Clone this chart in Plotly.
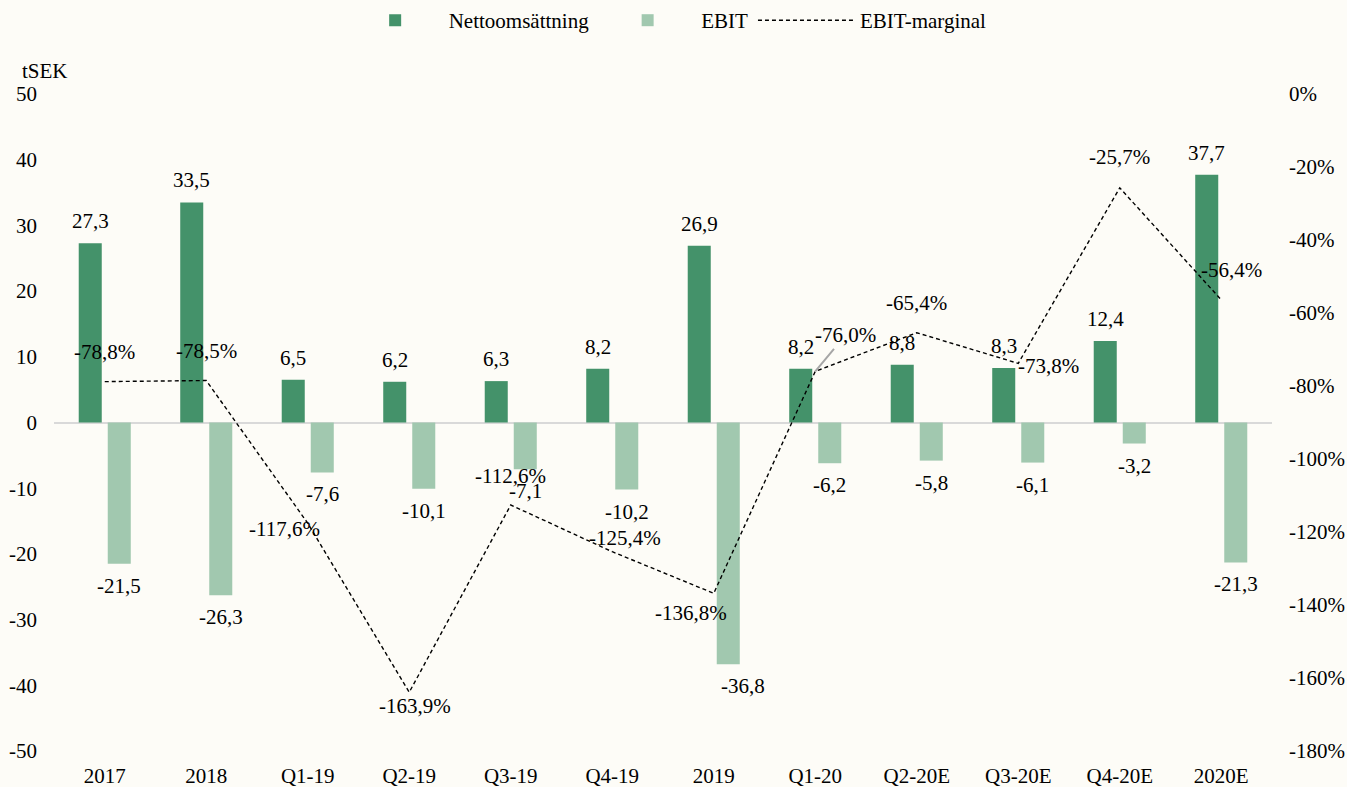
import plotly.graph_objects as go

categories = ["2017", "2018", "Q1-19", "Q2-19", "Q3-19", "Q4-19", "2019",
              "Q1-20", "Q2-20E", "Q3-20E", "Q4-20E", "2020E"]
nettoomsattning = [27.3, 33.5, 6.5, 6.2, 6.3, 8.2, 26.9, 8.2, 8.8, 8.3, 12.4, 37.7]
ebit = [-21.5, -26.3, -7.6, -10.1, -7.1, -10.2, -36.8, -6.2, -5.8, -6.1, -3.2, -21.3]
ebit_marginal = [-78.8, -78.5, -117.6, -163.9, -112.6, -125.4, -136.8, -76.0, -65.4, -73.8, -25.7, -56.4]

left_ticks = [-50, -40, -30, -20, -10, 0, 10, 20, 30, 40, 50]
right_ticks = [-180, -160, -140, -120, -100, -80, -60, -40, -20, 0]

# styles
BG = "#FDFCF7"
DARK = "#44926A"
LIGHT = "#A1C8AF"
FONT = "Liberation Serif, Times New Roman, serif"
FS = 21
# pixel offsets for the margin labels (dx, dy)
margin_label_offsets = [(0, -30), (0, -30), (-23, 6), (6, 14), (0, -29), (13, -14),
                        (-23, 20), (30, -36), (0, -30), (30, 3), (0, -31), (10, -30)]
ebit_label_dx = [0, 0, 0, 0, 0, 0, 15, 0, 0, 0, 0, 0]


def fmt(v):
    return f"{v:.1f}".replace(".", ",")


idx = list(range(len(categories)))

fig = go.Figure()
fig.add_trace(go.Bar(name="Nettoomsättning", x=categories, y=nettoomsattning,
                     marker_color=DARK, marker_line_width=0))
fig.add_trace(go.Bar(name="EBIT", x=categories, y=ebit,
                     marker_color=LIGHT, marker_line_width=0))
fig.add_trace(go.Scatter(name="EBIT-marginal", x=categories, y=ebit_marginal, yaxis="y2",
                         mode="lines", line=dict(color="black", width=1.4, dash="4px,3px")))

ann = []
for i, v in zip(idx, nettoomsattning):
    ann.append(dict(x=i, y=v, text=fmt(v), showarrow=False, xshift=-14.5, yshift=8,
                    yanchor="bottom", xanchor="center", font=dict(size=FS, color="black")))
for i, v, dx in zip(idx, ebit, ebit_label_dx):
    ann.append(dict(x=i, y=v, text=fmt(v), showarrow=False, xshift=14.5 + dx, yshift=-8,
                    yanchor="top", xanchor="center", font=dict(size=FS, color="black")))
for i, v in zip(idx, ebit_marginal):
    dx, dy = margin_label_offsets[i]
    if categories[i] == "Q1-20":
        ann.append(dict(x=i, y=v, yref="y2", text=fmt(v) + "%", showarrow=True,
                        ax=dx, ay=dy, arrowhead=0, arrowcolor="#A6A6A6", arrowwidth=2,
                        standoff=0, font=dict(size=FS, color="black")))
    else:
        ann.append(dict(x=i, y=v, yref="y2", text=fmt(v) + "%", showarrow=False,
                        xshift=dx, yshift=-dy, xanchor="center", yanchor="middle",
                        font=dict(size=FS, color="black")))
ann.append(dict(xref="paper", yref="paper", x=-0.0279, y=1.0, yshift=9, text="tSEK",
                showarrow=False, xanchor="left", yanchor="bottom",
                font=dict(size=FS, color="black")))

fig.update_layout(
    width=1347, height=787,
    paper_bgcolor=BG, plot_bgcolor=BG,
    font=dict(family=FONT, size=FS, color="black"),
    margin=dict(l=54, r=75, t=94, b=36, autoexpand=False),
    barmode="group", bargap=0.428, bargroupgap=0.207,
    showlegend=True,
    legend=dict(orientation="h", x=0.503, xanchor="center", y=1.143, yanchor="top",
                font=dict(size=FS), bgcolor="rgba(0,0,0,0)", itemwidth=97),
    xaxis=dict(type="category", range=[-0.5, len(categories) - 0.5], showgrid=False,
               showline=False, ticks="", ticklabelstandoff=10, tickfont=dict(size=FS)),
    yaxis=dict(range=[-50, 50], tickvals=left_ticks,
               ticktext=[str(t) for t in left_ticks], showgrid=False,
               zeroline=True, zerolinecolor="#D9D9D9", zerolinewidth=2,
               showline=False, ticks="", ticklabelstandoff=16),
    yaxis2=dict(range=[-180, 0], overlaying="y", side="right",
                tickvals=right_ticks, ticktext=[f"{t}%" for t in right_ticks],
                showgrid=False, zeroline=False, showline=False, ticks="",
                ticklabelstandoff=16),
    annotations=ann,
)

fig.write_html("out.html", config={"displayModeBar": False},
               post_script="document.body.style.margin='0';document.body.style.background='%s';" % BG)
